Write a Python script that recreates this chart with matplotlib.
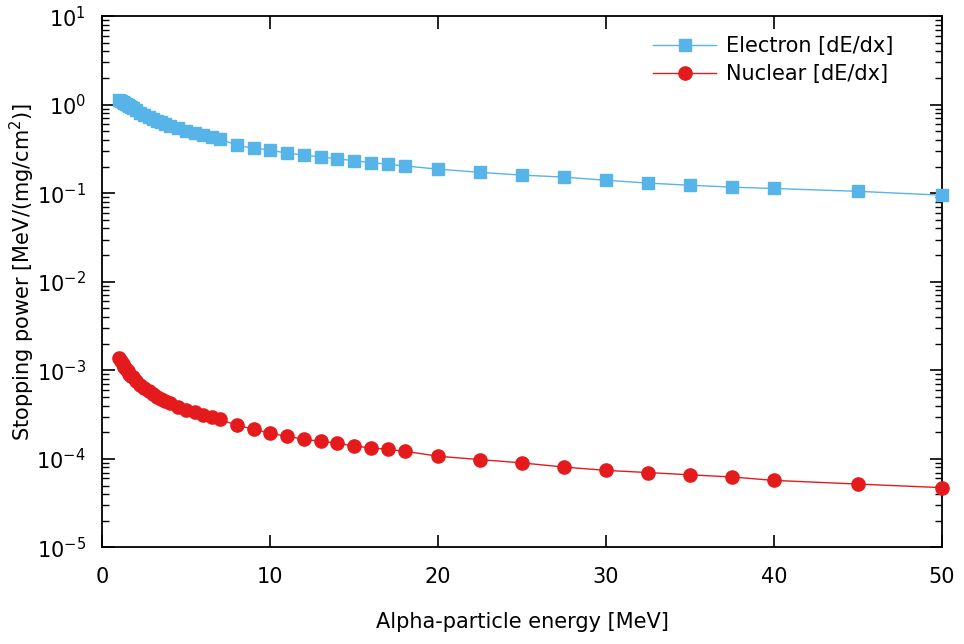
import matplotlib
matplotlib.use("Agg")
import matplotlib.pyplot as plt
from matplotlib.ticker import LogLocator, MultipleLocator, NullFormatter
import numpy as np

# alpha energies [MeV]
energy = [1, 1.1, 1.2, 1.3, 1.4, 1.5, 1.6, 1.7, 1.8, 2, 2.25, 2.5, 2.75, 3, 3.25, 3.5,
          3.75, 4, 4.5, 5, 5.5, 6, 6.5, 7, 8, 9, 10, 11, 12, 13, 14, 15, 16, 17, 18,
          20, 22.5, 25, 27.5, 30, 32.5, 35, 37.5, 40, 45, 50]

# electronic stopping [MeV/(mg/cm2)]
electron = [1.12, 1.10, 1.08, 1.05, 1.02, 0.99, 0.96, 0.93, 0.91, 0.86, 0.81, 0.76,
            0.72, 0.69, 0.66, 0.63, 0.60, 0.58, 0.54, 0.51, 0.48, 0.45, 0.43, 0.41,
            0.348, 0.323, 0.306, 0.283, 0.270, 0.256, 0.245, 0.232, 0.222, 0.212,
            0.203, 0.187, 0.172, 0.160, 0.152, 0.140, 0.130, 0.123, 0.117, 0.113,
            0.105, 0.095]

# nuclear stopping [MeV/(mg/cm2)]
nuclear = [1.37e-3, 1.26e-3, 1.17e-3, 1.09e-3, 1.03e-3, 9.7e-4, 9.2e-4, 8.7e-4, 8.3e-4,
           7.6e-4, 6.9e-4, 6.3e-4, 5.8e-4, 5.4e-4, 5.05e-4, 4.75e-4, 4.5e-4, 4.27e-4,
           3.9e-4, 3.6e-4, 3.35e-4, 3.13e-4, 2.95e-4, 2.79e-4, 2.39e-4, 2.17e-4,
           1.94e-4, 1.80e-4, 1.66e-4, 1.58e-4, 1.50e-4, 1.39e-4, 1.33e-4, 1.28e-4,
           1.22e-4, 1.07e-4, 9.8e-5, 9.0e-5, 8.07e-5, 7.41e-5, 7.0e-5, 6.6e-5,
           6.24e-5, 5.71e-5, 5.19e-5, 4.73e-5]

FS = 15
plt.rcParams["font.family"] = "DejaVu Sans"
plt.rcParams["mathtext.default"] = "regular"

fig = plt.figure(figsize=(9.64, 6.44), dpi=100)
ax = fig.add_axes([0.1063, 0.150, 0.8707, 0.825])

ax.plot(energy, electron, color="#56b4e9", lw=1.0, marker="s", ms=8.5,
        label="Electron [dE/dx]", clip_on=False, zorder=3)
ax.plot(energy, nuclear, color="#e41a1c", lw=1.0, marker="o", ms=9.5,
        label="Nuclear [dE/dx]", clip_on=False, zorder=3)

ax.set_yscale("log")
ax.set_xlim(0, 50)
ax.set_ylim(1e-5, 1e1)
ax.xaxis.set_major_locator(MultipleLocator(10))
ax.yaxis.set_major_locator(LogLocator(base=10, numticks=20))
ax.yaxis.set_minor_locator(LogLocator(base=10, subs=np.arange(2, 10), numticks=20))
ax.yaxis.set_minor_formatter(NullFormatter())

ax.tick_params(which="both", direction="in", top=True, right=True, labelsize=FS)
ax.tick_params(which="major", length=9, width=1.2)
ax.tick_params(axis="x", which="major", pad=14)
ax.tick_params(axis="y", which="major", pad=12)
ax.tick_params(which="minor", length=5, width=1.0)
for s in ax.spines.values():
    s.set_linewidth(1.3)

ax.set_xlabel("Alpha-particle energy [MeV]", fontsize=FS, labelpad=18)
ax.set_ylabel("Stopping power [MeV/(mg/cm$^2$)]", fontsize=FS)
ax.yaxis.set_label_coords(-0.078, 0.518)

ax.legend(loc="upper right", bbox_to_anchor=(0.965, 0.998), frameon=False, fontsize=FS,
          handlelength=3.0, handletextpad=0.5, labelspacing=0.4)

fig.savefig("out.png", dpi=100)
